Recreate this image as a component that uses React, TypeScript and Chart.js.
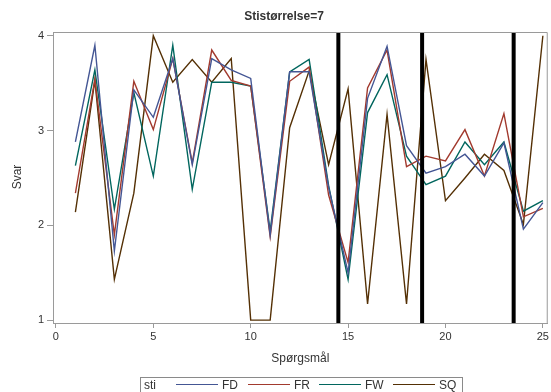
import React, { useEffect, useRef } from "react";
import { Chart, registerables } from "chart.js";

Chart.register(...registerables);

const questions = [1, 2, 3, 4, 5, 6, 7, 8, 9, 10, 11, 12, 13, 14, 15, 16, 17, 18, 19, 20, 21, 22, 23, 24, 25];
const seriesNames = ["FD", "FR", "FW", "SQ"];
const fdValues = [2.88, 3.9, 1.73, 3.43, 3.14, 3.76, 2.64, 3.76, 3.64, 3.55, 1.9, 3.62, 3.62, 2.4, 1.5, 3.34, 3.89, 2.84, 2.55, 2.62, 2.75, 2.52, 2.87, 1.96, 2.24];
const frValues = [2.34, 3.54, 1.9, 3.52, 3.01, 3.76, 2.66, 3.85, 3.53, 3.47, 1.88, 3.52, 3.67, 2.32, 1.61, 3.45, 3.85, 2.62, 2.73, 2.68, 3.01, 2.52, 3.18, 2.09, 2.18];
const fwValues = [2.63, 3.64, 2.17, 3.4, 2.52, 3.9, 2.38, 3.51, 3.51, 3.47, 1.94, 3.62, 3.75, 2.42, 1.43, 3.19, 3.59, 2.73, 2.43, 2.52, 2.88, 2.64, 2.88, 2.15, 2.26];
const sqValues = [2.14, 3.53, 1.43, 2.34, 4.0, 3.51, 3.75, 3.51, 3.76, 1.0, 1.0, 3.03, 3.63, 2.64, 3.44, 1.17, 3.17, 1.17, 3.75, 2.26, 2.5, 2.75, 2.58, 2.01, 4.0];
const seriesColors = ["#445694", "#A23A2E", "#01665E", "#543005"];
const refLines = [14.5, 18.8, 23.5];
const xTicks = [0, 5, 10, 15, 20, 25];
const yTicks = [1, 2, 3, 4];
const titleText = "Stistørrelse=7";
const xLabel = "Spørgsmål";
const yLabel = "Svar";
const legendTitle = "sti";

const FONT = "'Liberation Sans', Arial, sans-serif";
const AXIS_COLOR = "#9a9a9a";
const TEXT_COLOR = "#333333";

export default function App() {
  const canvasRef = useRef<HTMLCanvasElement | null>(null);

  useEffect(() => {
    document.body.style.margin = "0";
    const canvas = canvasRef.current;
    if (!canvas) return;
    const allValues = [fdValues, frValues, fwValues, sqValues];

    const decor = {
      id: "decor",
      afterDatasetsDraw(chart: any) {
        const { ctx, chartArea } = chart;
        const xs = chart.scales.x;
        ctx.save();
        // reference lines
        ctx.strokeStyle = "#000000";
        ctx.lineWidth = 4;
        refLines.forEach((v) => {
          const px = xs.getPixelForValue(v);
          ctx.beginPath();
          ctx.moveTo(px, chartArea.top);
          ctx.lineTo(px, chartArea.bottom);
          ctx.stroke();
        });
        // frame top/right
        ctx.strokeStyle = AXIS_COLOR;
        ctx.lineWidth = 1;
        ctx.beginPath();
        ctx.moveTo(chartArea.left, chartArea.top + 0.5);
        ctx.lineTo(chartArea.right - 0.5, chartArea.top + 0.5);
        ctx.lineTo(chartArea.right - 0.5, chartArea.bottom);
        ctx.stroke();
        ctx.restore();
      },
      afterDraw(chart: any) {
        const { ctx, chartArea } = chart;
        ctx.save();
        ctx.fillStyle = TEXT_COLOR;
        // title
        ctx.font = `bold 12px ${FONT}`;
        ctx.textAlign = "center";
        ctx.textBaseline = "middle";
        ctx.fillText(titleText, 284, 17);
        // x label
        ctx.font = `12px ${FONT}`;
        ctx.fillText(xLabel, (chartArea.left + chartArea.right) / 2, 359);
        // y label
        ctx.save();
        ctx.translate(18, 177);
        ctx.rotate(-Math.PI / 2);
        ctx.fillText(yLabel, 0, 0);
        ctx.restore();
        // legend
        ctx.strokeStyle = "#8a8a8a";
        ctx.lineWidth = 1;
        ctx.strokeRect(140.5, 377.5, 322, 20);
        ctx.textAlign = "left";
        ctx.font = `12px ${FONT}`;
        ctx.fillText(legendTitle, 144, 386);
        const lineStarts = [176, 248, 319, 393];
        seriesNames.forEach((name, i) => {
          const x0 = lineStarts[i];
          ctx.strokeStyle = seriesColors[i];
          ctx.lineWidth = 1;
          ctx.beginPath();
          ctx.moveTo(x0, 384.5);
          ctx.lineTo(x0 + 42, 384.5);
          ctx.stroke();
          ctx.fillStyle = TEXT_COLOR;
          ctx.fillText(name, x0 + 46, 386);
        });
        ctx.restore();
      },
    };

    const chart = new Chart(canvas, {
      type: "line",
      data: {
        datasets: seriesNames.map((name, i) => ({
          label: name,
          data: questions.map((q, j) => ({ x: q, y: allValues[i][j] })),
          borderColor: seriesColors[i],
          backgroundColor: seriesColors[i],
          borderWidth: 1.4,
          pointRadius: 0,
          tension: 0,
          fill: false,
        })),
      },
      options: {
        animation: false,
        responsive: true,
        maintainAspectRatio: false,
        layout: { padding: { top: 32, right: 1, left: 0, bottom: 0 } },
        plugins: {
          legend: { display: false },
          title: { display: false },
          tooltip: { enabled: false },
        },
        scales: {
          x: {
            type: "linear",
            min: -0.15,
            max: 25.25,
            afterBuildTicks: (s: any) => {
              s.ticks = xTicks.map((v) => ({ value: v }));
            },
            afterFit: (s: any) => {
              s.height = 69;
            },
            grid: { drawOnChartArea: false, tickLength: 5, color: AXIS_COLOR },
            border: { color: AXIS_COLOR },
            ticks: { color: TEXT_COLOR, font: { family: FONT, size: 11 }, padding: 2, maxRotation: 0, autoSkip: false },
          },
          y: {
            type: "linear",
            min: 0.97,
            max: 4.04,
            afterBuildTicks: (s: any) => {
              s.ticks = yTicks.map((v) => ({ value: v }));
            },
            afterFit: (s: any) => {
              s.width = 53;
            },
            grid: { drawOnChartArea: false, tickLength: 6, color: AXIS_COLOR },
            border: { color: AXIS_COLOR },
            ticks: { color: TEXT_COLOR, font: { family: FONT, size: 11 }, padding: 3, autoSkip: false },
          },
        },
      },
      plugins: [decor],
    } as any);

    return () => chart.destroy();
  }, []);

  return (
    <div style={{ position: "relative", width: 551, height: 392 }}>
      <canvas ref={canvasRef} />
    </div>
  );
}
